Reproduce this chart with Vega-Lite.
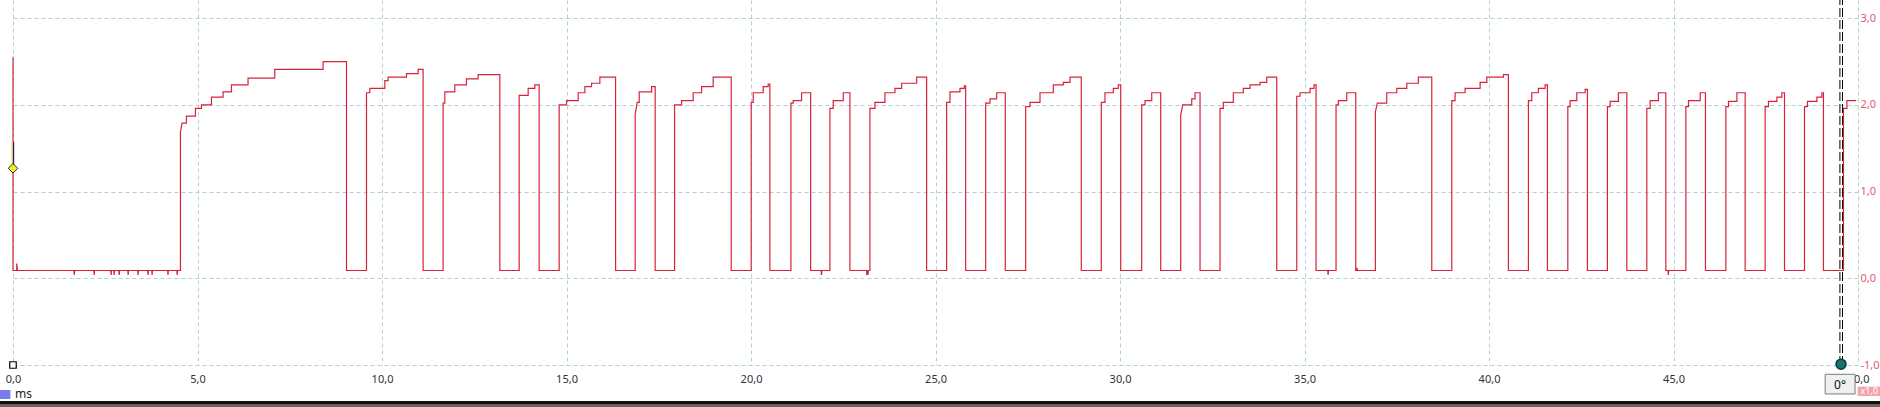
{
"$schema": "https://vega.github.io/schema/vega-lite/v6.json",
"width": 1845, "height": 365,
"autosize": "none",
"padding": {"left": 13, "top": 0, "right": 22, "bottom": 42},
"background": "white",
"config": {"view": {"stroke": null}, "font": "Noto Sans"},
"encoding": {
 "x": {"field": "t", "type": "quantitative", "scale": {"domain": [0, 50], "nice": false, "zero": false},
   "axis": {"values": [0,5,10,15,20,25,30,35,40,45,50], "labelExpr": "datum.value + ',0'", "title": null, "ticks": false, "domain": false, "grid": true, "gridColor": "#b2d0da", "gridDash": [4,3], "gridWidth": 1, "labelFontSize": 11, "labelColor": "#333333", "labelPadding": 8, "labelFont": "Noto Sans", "labelFlush": false, "labelOverlap": false}},
 "y": {"field": "v", "type": "quantitative", "scale": {"domain": [-1, 3.21], "nice": false, "zero": false},
   "axis": {"orient": "right", "values": [-1,0,1,2,3], "labelExpr": "datum.value + ',0'", "title": null, "ticks": false, "domain": false, "grid": true, "gridColor": "#b2d0da", "gridDash": [4,3], "gridWidth": 1, "labelFontSize": 11, "labelColor": "#e25a6e", "labelPadding": 2, "labelFont": "Noto Sans", "labelFlush": false, "labelOverlap": false, "labelBaseline": "middle"}}
},
"layer": [
 {
  "data": {"values": [
{"t":0,"v":2.55},{"t":0,"v":0.09},{"t":0.1,"v":0.09},{"t":0.1,"v":0.17},{"t":0.12,"v":0.09},
{"t":1.65,"v":0.09},{"t":1.66,"v":0.04},{"t":1.67,"v":0.09},
{"t":2.19,"v":0.09},{"t":2.2,"v":0.04},{"t":2.21,"v":0.09},
{"t":2.65,"v":0.09},{"t":2.66,"v":0.04},{"t":2.67,"v":0.09},
{"t":2.73,"v":0.09},{"t":2.74,"v":0.04},{"t":2.75,"v":0.09},
{"t":2.87,"v":0.09},{"t":2.88,"v":0.04},{"t":2.89,"v":0.09},
{"t":3.11,"v":0.09},{"t":3.12,"v":0.04},{"t":3.13,"v":0.09},
{"t":3.38,"v":0.09},{"t":3.39,"v":0.04},{"t":3.4,"v":0.09},
{"t":3.65,"v":0.09},{"t":3.66,"v":0.04},{"t":3.67,"v":0.09},
{"t":3.76,"v":0.09},{"t":3.77,"v":0.04},{"t":3.78,"v":0.09},
{"t":4.19,"v":0.09},{"t":4.2,"v":0.04},{"t":4.21,"v":0.09},
{"t":4.44,"v":0.09},{"t":4.45,"v":0.04},{"t":4.46,"v":0.09},
{"t":4.538,"v":0.09},{"t":4.538,"v":1.69},{"t":4.581,"v":1.79},{"t":4.7,"v":1.79},{"t":4.7,"v":1.87},{"t":4.944,"v":1.87},{"t":4.944,"v":1.96},{"t":5.107,"v":1.96},{"t":5.107,"v":2.0},{"t":5.378,"v":2.0},{"t":5.378,"v":2.09},{"t":5.693,"v":2.09},{"t":5.693,"v":2.15},{"t":5.92,"v":2.15},{"t":5.92,"v":2.23},{"t":6.37,"v":2.23},{"t":6.37,"v":2.31},{"t":7.094,"v":2.31},{"t":7.094,"v":2.41},{"t":8.403,"v":2.41},{"t":8.403,"v":2.5},{"t":9.038,"v":2.5},{"t":9.038,"v":0.09},
{"t":9.58,"v":0.09},{"t":9.58,"v":2.14},{"t":9.669,"v":2.14},{"t":9.669,"v":2.19},{"t":10.076,"v":2.19},{"t":10.076,"v":2.28},{"t":10.166,"v":2.28},{"t":10.166,"v":2.32},{"t":10.664,"v":2.32},{"t":10.664,"v":2.36},{"t":10.979,"v":2.36},{"t":10.979,"v":2.41},{"t":11.114,"v":2.41},{"t":11.114,"v":0.09},
{"t":11.656,"v":0.09},{"t":11.656,"v":2.02},{"t":11.702,"v":2.02},{"t":11.702,"v":2.15},{"t":11.973,"v":2.15},{"t":11.973,"v":2.23},{"t":12.29,"v":2.23},{"t":12.29,"v":2.3},{"t":12.605,"v":2.3},{"t":12.605,"v":2.35},{"t":13.193,"v":2.35},{"t":13.193,"v":0.09},
{"t":13.717,"v":0.09},{"t":13.717,"v":2.11},{"t":13.961,"v":2.11},{"t":13.961,"v":2.19},{"t":14.142,"v":2.19},{"t":14.142,"v":2.23},{"t":14.259,"v":2.23},{"t":14.259,"v":0.09},
{"t":14.801,"v":0.09},{"t":14.801,"v":2.0},{"t":15.001,"v":2.0},{"t":15.001,"v":2.05},{"t":15.316,"v":2.05},{"t":15.316,"v":2.14},{"t":15.498,"v":2.14},{"t":15.498,"v":2.21},{"t":15.679,"v":2.21},{"t":15.679,"v":2.25},{"t":15.904,"v":2.25},{"t":15.904,"v":2.32},{"t":16.33,"v":2.32},{"t":16.33,"v":0.09},
{"t":16.861,"v":0.09},{"t":16.861,"v":1.89},{"t":16.915,"v":2.03},{"t":16.97,"v":2.03},{"t":16.97,"v":2.15},{"t":17.306,"v":2.15},{"t":17.306,"v":2.21},{"t":17.403,"v":2.21},{"t":17.403,"v":0.09},
{"t":17.929,"v":0.09},{"t":17.929,"v":2.0},{"t":18.119,"v":2.0},{"t":18.119,"v":2.05},{"t":18.433,"v":2.05},{"t":18.433,"v":2.14},{"t":18.661,"v":2.14},{"t":18.661,"v":2.21},{"t":18.975,"v":2.21},{"t":18.975,"v":2.32},{"t":19.463,"v":2.32},{"t":19.463,"v":0.09},
{"t":20.005,"v":0.09},{"t":20.005,"v":2.03},{"t":20.06,"v":2.03},{"t":20.06,"v":2.14},{"t":20.331,"v":2.14},{"t":20.331,"v":2.21},{"t":20.466,"v":2.21},{"t":20.466,"v":2.24},{"t":20.512,"v":2.24},{"t":20.512,"v":0.09},
{"t":21.082,"v":0.09},{"t":21.082,"v":2.02},{"t":21.144,"v":2.02},{"t":21.144,"v":2.05},{"t":21.371,"v":2.05},{"t":21.371,"v":2.14},{"t":21.616,"v":2.14},{"t":21.616,"v":0.09},
{"t":21.9,"v":0.09},{"t":21.91,"v":0.04},{"t":21.92,"v":0.09},
{"t":22.139,"v":0.09},{"t":22.139,"v":1.96},{"t":22.228,"v":1.96},{"t":22.228,"v":2.05},{"t":22.5,"v":2.05},{"t":22.5,"v":2.14},{"t":22.681,"v":2.14},{"t":22.681,"v":0.09},
{"t":23.13,"v":0.09},{"t":23.14,"v":0.04},{"t":23.15,"v":0.09},{"t":23.17,"v":0.04},{"t":23.18,"v":0.09},
{"t":23.223,"v":0.09},{"t":23.223,"v":1.96},{"t":23.359,"v":1.96},{"t":23.359,"v":2.03},{"t":23.63,"v":2.03},{"t":23.63,"v":2.14},{"t":23.901,"v":2.14},{"t":23.901,"v":2.19},{"t":24.083,"v":2.19},{"t":24.083,"v":2.25},{"t":24.489,"v":2.25},{"t":24.489,"v":2.32},{"t":24.76,"v":2.32},{"t":24.76,"v":0.09},
{"t":25.302,"v":0.09},{"t":25.302,"v":2.03},{"t":25.392,"v":2.03},{"t":25.392,"v":2.15},{"t":25.663,"v":2.15},{"t":25.663,"v":2.19},{"t":25.779,"v":2.19},{"t":25.779,"v":2.22},{"t":25.817,"v":2.22},{"t":25.817,"v":0.09},
{"t":26.36,"v":0.09},{"t":26.36,"v":2.02},{"t":26.477,"v":2.02},{"t":26.477,"v":2.07},{"t":26.658,"v":2.07},{"t":26.658,"v":2.14},{"t":26.891,"v":2.14},{"t":26.891,"v":0.09},
{"t":27.444,"v":0.09},{"t":27.444,"v":1.98},{"t":27.56,"v":1.98},{"t":27.56,"v":2.03},{"t":27.832,"v":2.03},{"t":27.832,"v":2.14},{"t":28.192,"v":2.14},{"t":28.192,"v":2.23},{"t":28.463,"v":2.23},{"t":28.463,"v":2.26},{"t":28.645,"v":2.26},{"t":28.645,"v":2.32},{"t":28.951,"v":2.32},{"t":28.951,"v":0.09},
{"t":29.493,"v":0.09},{"t":29.493,"v":2.03},{"t":29.593,"v":2.03},{"t":29.593,"v":2.14},{"t":29.818,"v":2.14},{"t":29.818,"v":2.19},{"t":29.954,"v":2.19},{"t":29.954,"v":2.23},{"t":30.019,"v":2.23},{"t":30.019,"v":0.09},
{"t":30.588,"v":0.09},{"t":30.588,"v":2.0},{"t":30.678,"v":2.0},{"t":30.678,"v":2.05},{"t":30.86,"v":2.05},{"t":30.86,"v":2.14},{"t":31.103,"v":2.14},{"t":31.103,"v":0.09},
{"t":31.645,"v":0.09},{"t":31.645,"v":1.88},{"t":31.699,"v":2.0},{"t":31.944,"v":2.0},{"t":31.944,"v":2.07},{"t":32.033,"v":2.07},{"t":32.033,"v":2.14},{"t":32.169,"v":2.14},{"t":32.169,"v":0.09},
{"t":32.711,"v":0.09},{"t":32.711,"v":1.96},{"t":32.8,"v":1.96},{"t":32.8,"v":2.03},{"t":33.071,"v":2.03},{"t":33.071,"v":2.14},{"t":33.342,"v":2.14},{"t":33.342,"v":2.19},{"t":33.524,"v":2.19},{"t":33.524,"v":2.23},{"t":33.795,"v":2.23},{"t":33.795,"v":2.26},{"t":33.977,"v":2.26},{"t":33.977,"v":2.32},{"t":34.248,"v":2.32},{"t":34.248,"v":0.09},
{"t":34.79,"v":0.09},{"t":34.79,"v":2.1},{"t":34.88,"v":2.1},{"t":34.88,"v":2.14},{"t":35.151,"v":2.14},{"t":35.151,"v":2.19},{"t":35.259,"v":2.19},{"t":35.259,"v":2.23},{"t":35.313,"v":2.23},{"t":35.313,"v":0.09},
{"t":35.63,"v":0.09},{"t":35.64,"v":0.04},{"t":35.65,"v":0.09},
{"t":35.855,"v":0.09},{"t":35.855,"v":2.0},{"t":35.918,"v":2.0},{"t":35.918,"v":2.05},{"t":36.145,"v":2.05},{"t":36.145,"v":2.14},{"t":36.389,"v":2.14},{"t":36.389,"v":0.09},
{"t":36.42,"v":0.09},{"t":36.42,"v":0.12},{"t":36.44,"v":0.09},
{"t":36.921,"v":0.09},{"t":36.921,"v":1.92},{"t":36.975,"v":2.02},{"t":37.229,"v":2.02},{"t":37.229,"v":2.14},{"t":37.501,"v":2.14},{"t":37.501,"v":2.19},{"t":37.772,"v":2.19},{"t":37.772,"v":2.25},{"t":38.086,"v":2.25},{"t":38.086,"v":2.32},{"t":38.449,"v":2.32},{"t":38.449,"v":0.09},
{"t":38.991,"v":0.09},{"t":38.991,"v":2.05},{"t":39.081,"v":2.05},{"t":39.081,"v":2.14},{"t":39.352,"v":2.14},{"t":39.352,"v":2.19},{"t":39.759,"v":2.19},{"t":39.759,"v":2.26},{"t":39.94,"v":2.26},{"t":39.94,"v":2.32},{"t":40.391,"v":2.32},{"t":40.391,"v":2.35},{"t":40.526,"v":2.35},{"t":40.526,"v":0.09},
{"t":41.068,"v":0.09},{"t":41.068,"v":2.05},{"t":41.16,"v":2.05},{"t":41.16,"v":2.14},{"t":41.339,"v":2.14},{"t":41.339,"v":2.19},{"t":41.521,"v":2.19},{"t":41.521,"v":2.23},{"t":41.583,"v":2.23},{"t":41.583,"v":0.09},
{"t":42.136,"v":0.09},{"t":42.136,"v":1.98},{"t":42.198,"v":1.98},{"t":42.198,"v":2.05},{"t":42.38,"v":2.05},{"t":42.38,"v":2.14},{"t":42.605,"v":2.14},{"t":42.605,"v":2.18},{"t":42.667,"v":2.18},{"t":42.667,"v":0.09},
{"t":43.209,"v":0.09},{"t":43.209,"v":1.98},{"t":43.283,"v":1.98},{"t":43.283,"v":2.04},{"t":43.508,"v":2.04},{"t":43.508,"v":2.14},{"t":43.735,"v":2.14},{"t":43.735,"v":0.09},
{"t":44.277,"v":0.09},{"t":44.277,"v":1.96},{"t":44.367,"v":1.96},{"t":44.367,"v":2.05},{"t":44.592,"v":2.05},{"t":44.592,"v":2.14},{"t":44.792,"v":2.14},{"t":44.792,"v":0.09},
{"t":44.85,"v":0.09},{"t":44.86,"v":0.04},{"t":44.87,"v":0.09},
{"t":45.335,"v":0.09},{"t":45.335,"v":1.98},{"t":45.406,"v":1.98},{"t":45.406,"v":2.05},{"t":45.723,"v":2.05},{"t":45.723,"v":2.14},{"t":45.866,"v":2.14},{"t":45.866,"v":0.09},
{"t":46.419,"v":0.09},{"t":46.419,"v":1.98},{"t":46.49,"v":1.98},{"t":46.49,"v":2.04},{"t":46.718,"v":2.04},{"t":46.718,"v":2.14},{"t":46.942,"v":2.14},{"t":46.942,"v":0.09},
{"t":47.484,"v":0.09},{"t":47.484,"v":1.98},{"t":47.574,"v":1.98},{"t":47.574,"v":2.04},{"t":47.802,"v":2.04},{"t":47.802,"v":2.09},{"t":47.937,"v":2.09},{"t":47.937,"v":2.14},{"t":48.008,"v":2.14},{"t":48.008,"v":0.09},
{"t":48.55,"v":0.09},{"t":48.55,"v":1.98},{"t":48.631,"v":1.98},{"t":48.631,"v":2.04},{"t":48.886,"v":2.04},{"t":48.886,"v":2.09},{"t":49.021,"v":2.09},{"t":49.021,"v":2.14},{"t":49.064,"v":2.14},{"t":49.064,"v":0.09},
{"t":49.606,"v":0.09},{"t":49.606,"v":1.96},{"t":49.699,"v":1.96},{"t":49.699,"v":2.05},{"t":49.95,"v":2.05}
  ]},
  "mark": {"type": "line", "color": "#d8223a", "strokeWidth": 1.2, "interpolate": "linear"},
  "encoding": {"order": {"value": null}}
 },
 {
  "data": {"values": [{"t": 49.51, "v": -1, "v2": 3.21}, {"t": 49.58, "v": -1, "v2": 3.21}]},
  "mark": {"type": "rule", "color": "#000000", "strokeWidth": 1, "strokeDash": [9, 3]},
  "encoding": {"y2": {"field": "v2"}}
 },
 {
  "data": {"values": [{"t": 0, "v": 1.575, "v2": 1.3}]},
  "mark": {"type": "rule", "color": "#f2ee30", "strokeWidth": 1.2, "xOffset": -1},
  "encoding": {"y2": {"field": "v2"}}
 },
 {
  "data": {"values": [{"t": 0, "v": 1.575, "v2": 1.3}]},
  "mark": {"type": "rule", "color": "#1a1aa0", "strokeWidth": 1.2, "xOffset": 0.6},
  "encoding": {"y2": {"field": "v2"}}
 },
 {
  "data": {"values": [{"t": 0, "v": 1.269}]},
  "mark": {"type": "point", "shape": "diamond", "size": 90, "filled": true, "fill": "#f2ee20", "stroke": "#000000", "strokeWidth": 0.8, "opacity": 1}
 },
 {
  "data": {"values": [{"t": 0, "v": -1}]},
  "mark": {"type": "point", "shape": "square", "size": 42, "filled": true, "fill": "#ffffff", "stroke": "#000000", "strokeWidth": 1.2, "opacity": 1}
 },
 {
  "data": {"values": [{"t": 49.54, "v": -0.99}]},
  "mark": {"type": "point", "shape": "circle", "size": 100, "filled": true, "fill": "#157470", "stroke": "#0b3b3b", "strokeWidth": 1.5, "opacity": 1}
 },
 {
  "data": {"values": [{"t": -0.4, "t2": -0.07, "v": -1.288, "v2": -1.392}]},
  "mark": {"type": "rect", "color": "#7b7bf0"},
  "encoding": {"x2": {"field": "t2"}, "y2": {"field": "v2"}}
 },
 {
  "data": {"values": [{"t": 49.11, "t2": 49.92, "v": -1.107, "v2": -1.334}]},
  "mark": {"type": "rect", "fill": "#f0f0f0", "stroke": "#7a7a7a", "strokeWidth": 1},
  "encoding": {"x2": {"field": "t2"}, "y2": {"field": "v2"}}
 },
 {
  "data": {"values": [{"t": 49.99, "t2": 50.7, "v": -1.25, "v2": -1.357}]},
  "mark": {"type": "rect", "color": "#f4a3ab"},
  "encoding": {"x2": {"field": "t2"}, "y2": {"field": "v2"}}
 },
 {
  "data": {"values": [{"t": -0.4, "t2": 50.7, "v": -1.415, "v2": -1.45}]},
  "mark": {"type": "rect", "color": "#111111"},
  "encoding": {"x2": {"field": "t2"}, "y2": {"field": "v2"}}
 },
 {
  "data": {"values": [{"t": -0.4, "t2": 50.7, "v": -1.45, "v2": -1.5}]},
  "mark": {"type": "rect", "color": "#6e6358"},
  "encoding": {"x2": {"field": "t2"}, "y2": {"field": "v2"}}
 },
 {
  "data": {"values": [{"t": 0.054, "v": -1.334, "label": "ms"}]},
  "mark": {"type": "text", "align": "left", "baseline": "middle", "fontSize": 12, "color": "#222222", "font": "Noto Sans"},
  "encoding": {"text": {"field": "label"}}
 },
 {
  "data": {"values": [{"t": 49.515, "v": -1.225, "label": "0°"}]},
  "mark": {"type": "text", "align": "center", "baseline": "middle", "fontSize": 12, "color": "#111111", "font": "Noto Sans"},
  "encoding": {"text": {"field": "label"}}
 },
 {
  "data": {"values": [{"t": 50.07, "v": -1.305, "label": "x1,0"}]},
  "mark": {"type": "text", "align": "left", "baseline": "middle", "fontSize": 9, "color": "#ffffff", "font": "Noto Sans"},
  "encoding": {"text": {"field": "label"}}
 }
]
}
